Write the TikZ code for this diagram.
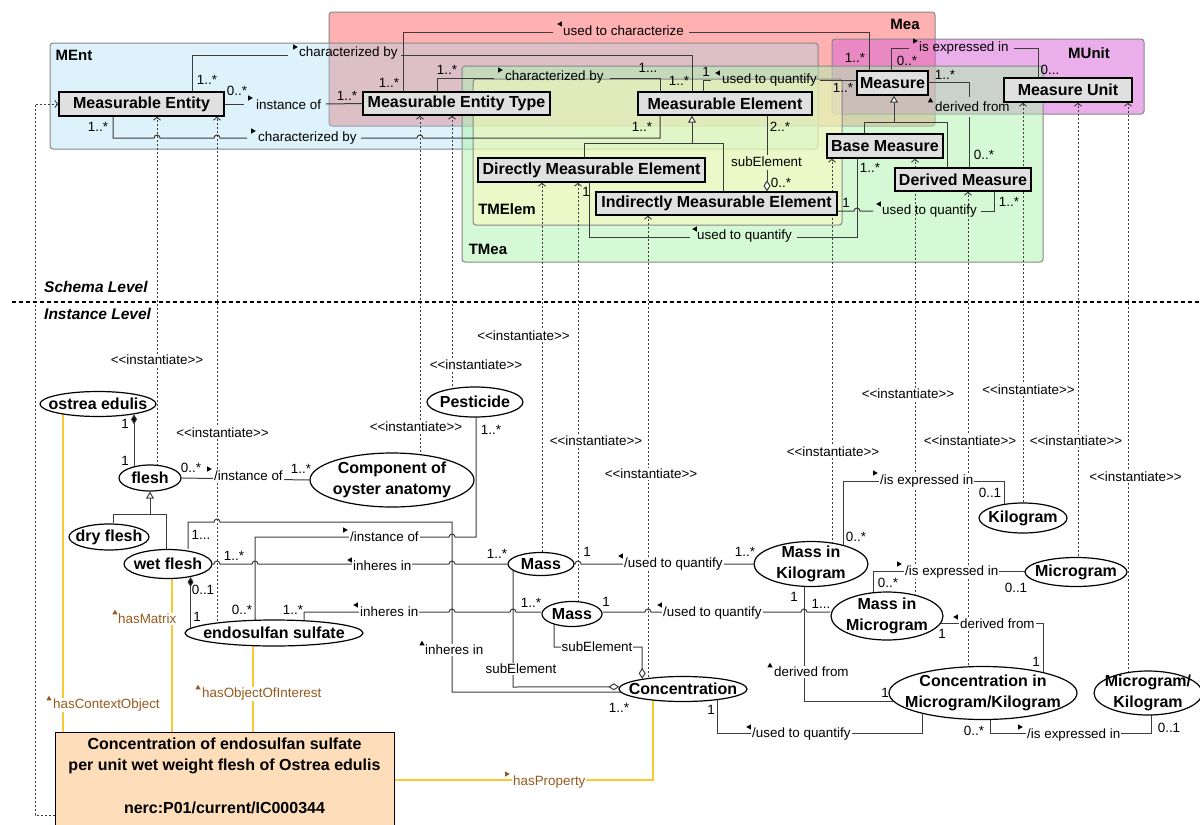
\documentclass[tikz,border=0pt]{standalone}
\usepackage{fontspec}
\setmainfont{Liberation Sans}
\usetikzlibrary{arrows.meta,shapes.geometric}
\definecolor{cMEnt}{RGB}{158,218,244}
\definecolor{cMea}{RGB}{255,101,101}
\definecolor{cMUnit}{RGB}{215,97,215}
\definecolor{cTMea}{RGB}{173,245,173}
\definecolor{cTMElem}{RGB}{255,250,186}
\definecolor{pkgline}{RGB}{135,135,135}
\definecolor{sfill}{RGB}{224,224,224}
\definecolor{conn}{RGB}{60,60,60}
\definecolor{gold}{RGB}{250,200,50}
\definecolor{brn}{RGB}{150,90,30}
\definecolor{boxfill}{RGB}{253,221,186}
\pgfdeclarelayer{bg}
\pgfdeclarelayer{mid}
\pgfsetlayers{bg,mid,main}
\newcommand\triR[3][black]{\fill[#1] (#2-2.3,#3-2.6) -- (#2+2.3,#3) -- (#2-2.3,#3+2.6) -- cycle;}
\newcommand\triL[3][black]{\fill[#1] (#2+2.3,#3-2.6) -- (#2-2.3,#3) -- (#2+2.3,#3+2.6) -- cycle;}
\newcommand\triU[3][black]{\fill[#1] (#2-2.6,#3+2.3) -- (#2,#3-2.3) -- (#2+2.6,#3+2.3) -- cycle;}
\tikzset{
  pkg/.style={draw=pkgline, line width=1pt, rounded corners=3pt, fill opacity=0.5},
  pkga/.style={pkg, fill opacity=0.35},
  pkglab/.style={font=\fontsize{15}{18}\selectfont\bfseries, inner sep=0pt},
  cls/.style={draw=black, line width=1.3pt, fill=sfill, inner sep=0pt, font=\fontsize{16}{19}\selectfont\bfseries},
  inst/.style={ellipse, draw=black, line width=1.2pt, fill=white, inner sep=0pt},
  itxt/.style={font=\fontsize{16}{21.5}\selectfont\bfseries, align=center, inner sep=0pt},
  con/.style={draw=conn, line width=1pt},
  lbl/.style={font=\fontsize{13.4}{16}\selectfont, inner sep=0pt, anchor=west},
  wlbl/.style={font=\fontsize{13.4}{16}\selectfont, inner sep=1pt, anchor=west, fill=white},
  blbl/.style={wlbl, text=brn},
  clbl/.style={font=\fontsize{13.4}{16}\selectfont, inner sep=1pt, fill=white},
  mlt/.style={font=\fontsize{13.4}{16}\selectfont, inner sep=0pt},
  inl/.style={draw=conn, line width=0.9pt, dash pattern=on 2pt off 2pt, -{Straight Barb[length=3pt,width=7pt]}},
  yel/.style={draw=gold, line width=1.3pt},
  gen/.style={con, -{Triangle[fill=white,length=7pt,width=8pt]}},
  agg/.style={con, -{Diamond[fill=white,length=11pt,width=7pt]}},
  cmp/.style={con, {Diamond[fill=black,length=10pt,width=6pt]}-},
  hop/.style={insert path={arc[start angle=180, end angle=360, radius=3]}},
}
\begin{document}
\begin{tikzpicture}[x=1pt,y=-1pt]
\useasboundingbox (0,0) rectangle (1200,825);
\begin{pgfonlayer}{bg}
\fill[white] (0,0) rectangle (1200,825);
\filldraw[pkg, fill=cMea] (329,12) rectangle (935,126);
\filldraw[pkga, fill=cMEnt] (50,43) rectangle (818,149);
\filldraw[pkg, fill=cMUnit] (832,39) rectangle (1144,114);
\filldraw[pkg, fill=cTMea] (462,66) rectangle (1043,262);
\filldraw[pkg, fill=cTMElem] (473,79) rectangle (842,225);
\end{pgfonlayer}
% package labels
\node[pkglab] (pMEnt) at (74,55) {MEnt};
\node[pkglab] (pMea) at (905,24) {Mea};
\node[pkglab] (pMUnit) at (1089,53) {MUnit};
\node[pkglab] (pTMea) at (488,249) {TMea};
\node[pkglab] (pTMElem) at (507,209) {TMElem};
% schema classes
\node[cls, minimum width=165, minimum height=24] (ment) at (141.5,104) {Measurable Entity};
\node[cls, minimum width=187, minimum height=23] (met) at (456.5,103.5) {Measurable Entity Type};
\node[cls, minimum width=174, minimum height=23] (melem) at (725,103.5) {Measurable Element};
\node[cls, minimum width=227, minimum height=24] (dme) at (591.5,170) {Directly Measurable Element};
\node[cls, minimum width=241, minimum height=23] (ime) at (716.5,203.5) {Indirectly Measurable Element};
\node[cls, minimum width=71, minimum height=24] (meas) at (892.5,83) {Measure};
\node[cls, minimum width=116, minimum height=24] (bm) at (885,146) {Base Measure};
\node[cls, minimum width=136, minimum height=23] (dm) at (963,179.5) {Derived Measure};
\node[cls, minimum width=128, minimum height=24] (mu) at (1068,90) {Measure Unit};
% level divider
\draw[black, line width=1.2pt, dash pattern=on 4pt off 3pt] (12,302) -- (1200,302);
\node[font=\fontsize{15.5}{18}\selectfont\bfseries\itshape, anchor=west, inner sep=0pt] (schl) at (44,287) {Schema Level};
\node[font=\fontsize{15.5}{18}\selectfont\bfseries\itshape, anchor=west, inner sep=0pt] (insl) at (44,314) {Instance Level};
% instance nodes
\node[inst, minimum width=116, minimum height=25, label={[itxt]center:ostrea edulis}] (ostrea) at (98,404) {};
\node[inst, minimum width=62, minimum height=26, label={[itxt]center:flesh}] (flesh) at (150,478) {};
\node[inst, minimum width=80, minimum height=26, label={[itxt]center:dry flesh}] (dry) at (109,537) {};
\node[inst, minimum width=88, minimum height=29, label={[itxt]center:wet flesh}] (wet) at (168,564) {};
\node[inst, minimum width=178, minimum height=26, label={[itxt]center:endosulfan sulfate}] (endo) at (274,633) {};
\node[inst, minimum width=164, minimum height=54, label={[itxt]center:Component of\\oyster anatomy}] (comp) at (392,480) {};
\node[inst, minimum width=96, minimum height=30, label={[itxt]center:Pesticide}] (pest) at (475,402) {};
\node[inst, minimum width=66, minimum height=23, label={[itxt]center:Mass}] (massA) at (541,564) {};
\node[inst, minimum width=60, minimum height=25, label={[itxt]center:Mass}] (massB) at (572,614) {};
\node[inst, minimum width=128, minimum height=25, label={[itxt]center:Concentration}] (conc) at (683,689) {};
\node[inst, minimum width=114, minimum height=45, label={[itxt]center:Mass in\\Kilogram}] (mkg) at (811,564) {};
\node[inst, minimum width=112, minimum height=48, label={[itxt]center:Mass in\\Microgram}] (mmg) at (887,616) {};
\node[inst, minimum width=188, minimum height=53, label={[itxt]center:Concentration in\\Microgram/Kilogram}] (cmk) at (983,693) {};
\node[inst, minimum width=88, minimum height=30, label={[itxt]center:Kilogram}] (kg) at (1023,518) {};
\node[inst, minimum width=102, minimum height=29, label={[itxt]center:Microgram}] (mg) at (1076,572) {};
\node[inst, minimum width=108, minimum height=44, label={[itxt]center:Microgram/\\Kilogram}] (mgkg) at (1148,693) {};
% concept box
\node[draw=black, line width=1.2pt, fill=boxfill, minimum width=339, minimum height=96, inner sep=0pt, anchor=north west] (cbox) at (55,732) {};
\node[itxt] (cboxtxt) at (224.5,776) {Concentration of endosulfan sulfate\\per unit wet weight flesh of Ostrea edulis\\\mbox{}\\nerc:P01/current/IC000344};

\begin{pgfonlayer}{mid}
% ---- schema connectors
\draw[con] (ment.north -| 192,0) -- (192,55) -- (288,55);
\draw[con] (401,55) -- (692,55) -- (melem.north -| 692,0);
\draw[con] (ment.east) -- (244,104);
\draw[con] (326,104) -- (met.west);
\draw[con] (ment.south -| 113,0) -- (113,138) -- (154,138) [hop] -- (214,138) [hop] -- (247,138);
\draw[con] (361,138) -- (417,138) [hop] -- (660,138) -- (melem.south -| 660,0);
\draw[con] (met.north -| 437,0) -- (437,78) -- (494,78);
\draw[con] (610,78) -- (660,78) -- (melem.north -| 660,0);
\draw[con] (met.north -| 403,0) -- (403,32) -- (553,32);
\draw[con] (689,32) -- (869,32) -- (meas.north -| 869,0);
\draw[con] (melem.north -| 703,0) -- (703,80) -- (711,80);
\draw[con] (820,80) -- (meas.west |- 0,80);
\draw[con] (meas.north -| 891,0) -- (891,48) -- (909,48);
\draw[con] (1014,48) -- (1038,48) -- (mu.north -| 1038,0);
\draw[con] (meas.east |- 0,82) -- (969,82) -- (969,97);
\draw[con] (969,117) -- (dm.north -| 969,0);
\draw[con] (bm.north -| 864,0) -- (864,122) -- (947,122) -- (dm.north -| 947,0);
\draw[gen] (894,122) -- (meas.south -| 894,0);
\draw[con] (dme.north -| 584,0) -- (584,143) -- (723,143) -- (ime.north -| 723,0);
\draw[gen] (692,143) -- (melem.south -| 692,0);
\draw[con] (melem.south -| 767,0) -- (767,155);
\draw[agg] (767,170) -- (ime.north -| 767,0);
\draw[con] (dme.south -| 589,0) -- (589,237) -- (690,237);
\draw[con] (797,237) -- (857,237) -- (bm.south -| 857,0);
\draw[con] (ime.east |- 0,211) -- (854,211) [hop] -- (873,211);
\draw[con] (981,211) -- (994,211) -- (dm.south -| 994,0);
% ---- instantiate dependencies
\draw[inl] (157,0 |- flesh.center) -- (ment.south -| 157,0);
\draw[inl] (217,0 |- endo.center) -- (ment.south -| 217,0);
\draw[inl] (420,0 |- comp.center) -- (met.south -| 420,0);
\draw[inl] (452,0 |- pest.center) -- (met.south -| 452,0);
\draw[inl] (542,0 |- massA.center) -- (dme.south -| 542,0);
\draw[inl] (578,0 |- massB.center) -- (dme.south -| 578,0);
\draw[inl] (648,0 |- conc.center) -- (ime.south -| 648,0);
\draw[inl] (832,0 |- mkg.center) -- (bm.south -| 832,0);
\draw[inl] (915,0 |- mmg.center) -- (bm.south -| 915,0);
\draw[inl] (968,0 |- cmk.center) -- (dm.south -| 968,0);
\draw[inl] (1023,0 |- kg.center) -- (mu.south -| 1023,0);
\draw[inl] (1078,0 |- mg.center) -- (mu.south -| 1078,0);
\draw[inl] (1128,0 |- mgkg.center) -- (mu.south -| 1128,0);
\draw[inl] (cbox.west |- 0,815) -- (35,815) -- (35,104) -- (ment.west);
% ---- instance connectors
\draw[cmp] (ostrea.-16.5) -- (ostrea.-16.5 |- flesh.center);
\draw[con] (flesh.east) -- (comp.west);
\draw[con] (dry.north -| 113,0) -- (113,514) -- (166,514) -- (wet.north -| 166,0);
\draw[gen] (150,514) -- (flesh.south);
\draw[cmp] (wet.-30.4) -- (wet.-30.4 |- endo.center);
\draw[con] (wet.north -| 188,0) -- (188,522) -- (214,522) [hop] -- (452,522) -- (452,692) -- (conc.center |- 0,692);
\draw[con] (wet.east) -- (214,564) [hop] -- (252,564) [hop] -- (449,564) [hop] -- (massA.west);
\draw[con] (304,0 |- endo.center) -- (304,612) -- (449,612) [hop] -- (510,612) [hop] -- (massB.west |- 0,612);
\draw[con] (255,0 |- endo.center) -- (255,537) -- (449,537) [hop] -- (476,537) -- (pest.south -| 476,0);
\draw[agg] (513,0 |- massA.center) -- (513,687) -- (conc.178.2);
\draw[agg] (554,0 |- massB.center) -- (554,647) -- (642,647) -- (conc.166.8);
\draw[con] (massA.east) -- (575,564) [hop] -- (mkg.west);
\draw[con] (massB.east |- 0,612) -- (645,612) [hop] -- (801,612) [hop] -- (mmg.west |- 0,612);
\draw[con] (804,0 |- mkg.center) -- (804,701) -- (cmk.center |- 0,701);
\draw[con] (843,0 |- mkg.center) -- (843,481) -- (1004,481) -- (1004,0 |- kg.center);
\draw[con] (873,0 |- mmg.center) -- (873,571) -- (mg.center |- 0,571);
\draw[con] (mmg.center |- 0,623) -- (1043,623) -- (1043,0 |- cmk.center);
\draw[con] (717,0 |- conc.center) -- (717,733) -- (922,733) -- (922,0 |- cmk.center);
\draw[con] (990,0 |- cmk.center) -- (990,733) -- (1151,733) -- (1151,0 |- mgkg.center);
% ---- yellow links
\draw[yel] (63,0 |- ostrea.center) -- (63,0 |- cbox.north);
\draw[yel] (172,0 |- wet.center) -- (172,0 |- cbox.north);
\draw[yel] (253,0 |- endo.center) -- (253,0 |- cbox.north);
\draw[yel] (cbox.east |- 0,780) -- (653,780) -- (653,0 |- conc.center);
\end{pgfonlayer}

% ---- schema labels
\node[lbl] (s1) at (299,53) {characterized by}; \triR{295.5}{47}
\node[lbl] (s2) at (256,105) {instance of}; \triR{250.5}{98}
\node[lbl] (s3) at (258,138) {characterized by}; \triR{253.5}{131}
\node[lbl] (s4) at (563,31) {used to characterize}; \triL{559.5}{24}
\node[lbl] (s5) at (505,77) {characterized by}; \triR{500.5}{70}
\node[lbl] (s6) at (722,80) {used to quantify}; \triL{717.5}{73}
\node[lbl] (s7) at (919,48) {is expressed in}; \triR{915.5}{41}
\node[lbl] (s8) at (935,107) {derived from}; \triU{930.5}{100}
\node[mlt] (s9) at (766.5,162) {subElement};
\node[lbl] (s10) at (697,236) {used to quantify}; \triL{694.5}{229}
\node[lbl] (s11) at (882,211) {used to quantify}; \triL{878.5}{204}
% schema multiplicities
\node[mlt] (m1) at (207,80) {1..*};
\node[mlt] (m2) at (679,81) {1..*};
\node[mlt] (m3) at (237,91) {0..*};
\node[mlt] (m4) at (347,96) {1..*};
\node[mlt] (m5) at (98,127) {1..*};
\node[mlt] (m6) at (642,127) {1..*};
\node[mlt] (m7) at (447,70) {1..*};
\node[mlt] (m8) at (648,68) {1...};
\node[mlt] (m9) at (389,83) {1..*};
\node[mlt] (m10) at (855,58) {1..*};
\node[mlt] (m11) at (706,72) {1};
\node[mlt] (m12) at (843,88) {1..*};
\node[mlt] (m13) at (907,61) {0..*};
\node[mlt] (m14) at (1050,70) {0...};
\node[mlt] (m15) at (945,75) {1..*};
\node[mlt] (m16) at (984,155) {0..*};
\node[mlt] (m17) at (780,127) {2..*};
\node[mlt] (m18) at (781,183) {0..*};
\node[mlt] (m19) at (586,192) {1};
\node[mlt] (m20) at (870,168) {1..*};
\node[mlt] (m21) at (846,203) {1};
\node[mlt] (m22) at (1009,202) {1..*};
% ---- instantiate labels
\node[clbl] (q1) at (157,360) {{<}{<}instantiate{>}{>}};
\node[clbl] (q2) at (222.5,433) {{<}{<}instantiate{>}{>}};
\node[clbl] (q3) at (416,427) {{<}{<}instantiate{>}{>}};
\node[clbl] (q4) at (476,365) {{<}{<}instantiate{>}{>}};
\node[clbl] (q5) at (523.5,336) {{<}{<}instantiate{>}{>}};
\node[clbl] (q6) at (596,441) {{<}{<}instantiate{>}{>}};
\node[clbl] (q7) at (651,474) {{<}{<}instantiate{>}{>}};
\node[clbl] (q8) at (833,452) {{<}{<}instantiate{>}{>}};
\node[clbl] (q9) at (908,394) {{<}{<}instantiate{>}{>}};
\node[clbl] (q10) at (970,441) {{<}{<}instantiate{>}{>}};
\node[clbl] (q11) at (1028.5,390) {{<}{<}instantiate{>}{>}};
\node[clbl] (q12) at (1076,441) {{<}{<}instantiate{>}{>}};
\node[clbl] (q13) at (1135.5,477) {{<}{<}instantiate{>}{>}};
% ---- instance labels
\node[wlbl] (n1) at (213,476) {/instance of}; \triR{209.5}{469}
\node[wlbl] (n2) at (349,537) {/instance of}; \triR{345.5}{530}
\node[wlbl] (n3) at (352,566) {inheres in}; \triL{349.5}{560}
\node[wlbl] (n4) at (359,612) {inheres in}; \triL{355.5}{605}
\node[wlbl] (n5) at (424,650) {inheres in}; \triU{422}{643}
\node[clbl] (n6) at (521,669) {subElement};
\node[clbl] (n7) at (597,647) {subElement};
\node[wlbl] (n8) at (623,564) {/used to quantify}; \triL{620.5}{556}
\node[wlbl] (n9) at (662,613) {/used to quantify}; \triL{659.5}{605}
\node[wlbl] (n10) at (773,672) {derived from}; \triU{770}{665}
\node[wlbl] (n11) at (879,481) {/is expressed in}; \triR{875.5}{473}
\node[wlbl] (n12) at (904,572) {/is expressed in}; \triR{899.5}{564}
\node[wlbl] (n13) at (959,624) {derived from}; \triL{955.5}{617}
\node[wlbl] (n14) at (751,734) {/used to quantify}; \triL{748.5}{727}
\node[wlbl] (n15) at (1026,735) {/is expressed in}; \triR{1020.5}{727}
\node[blbl] (b1) at (52,705) {hasContextObject}; \triU[brn]{49}{698}
\node[blbl] (b2) at (117,619) {hasMatrix}; \triU[brn]{115}{612}
\node[blbl] (b3) at (201,694) {hasObjectOfInterest}; \triU[brn]{198}{687}
\node[blbl] (b4) at (512,782) {hasProperty}; \triR[brn]{507.5}{774}
% instance multiplicities
\node[mlt] (k1) at (125,424) {1};
\node[mlt] (k2) at (125,461) {1};
\node[mlt] (k3) at (191,468) {0..*};
\node[mlt] (k4) at (301,469) {1..*};
\node[mlt] (k5) at (203,590) {0..1};
\node[mlt] (k6) at (197,617) {1};
\node[mlt] (k7) at (201,535) {1...};
\node[mlt] (k8) at (619,708) {1..*};
\node[mlt] (k9) at (234,556) {1..*};
\node[mlt] (k10) at (497,554) {1..*};
\node[mlt] (k11) at (293,610) {1..*};
\node[mlt] (k12) at (531,603) {1..*};
\node[mlt] (k13) at (491,430) {1..*};
\node[mlt] (k14) at (242,610) {0..*};
\node[mlt] (k15) at (587,552) {1};
\node[mlt] (k16) at (745,552) {1..*};
\node[mlt] (k17) at (606,602) {1};
\node[mlt] (k18) at (821,604) {1...};
\node[mlt] (k19) at (794,597) {1};
\node[mlt] (k20) at (885,693) {1};
\node[mlt] (k21) at (856,537) {0..*};
\node[mlt] (k22) at (990,493) {0..1};
\node[mlt] (k23) at (888,583) {0..*};
\node[mlt] (k24) at (1016,588) {0..1};
\node[mlt] (k25) at (942,634) {1};
\node[mlt] (k26) at (1036,662) {1};
\node[mlt] (k27) at (711,710) {1};
\node[mlt] (k28) at (974,731) {0..*};
\node[mlt] (k29) at (1169,728) {0..1};
\end{tikzpicture}
\end{document}
